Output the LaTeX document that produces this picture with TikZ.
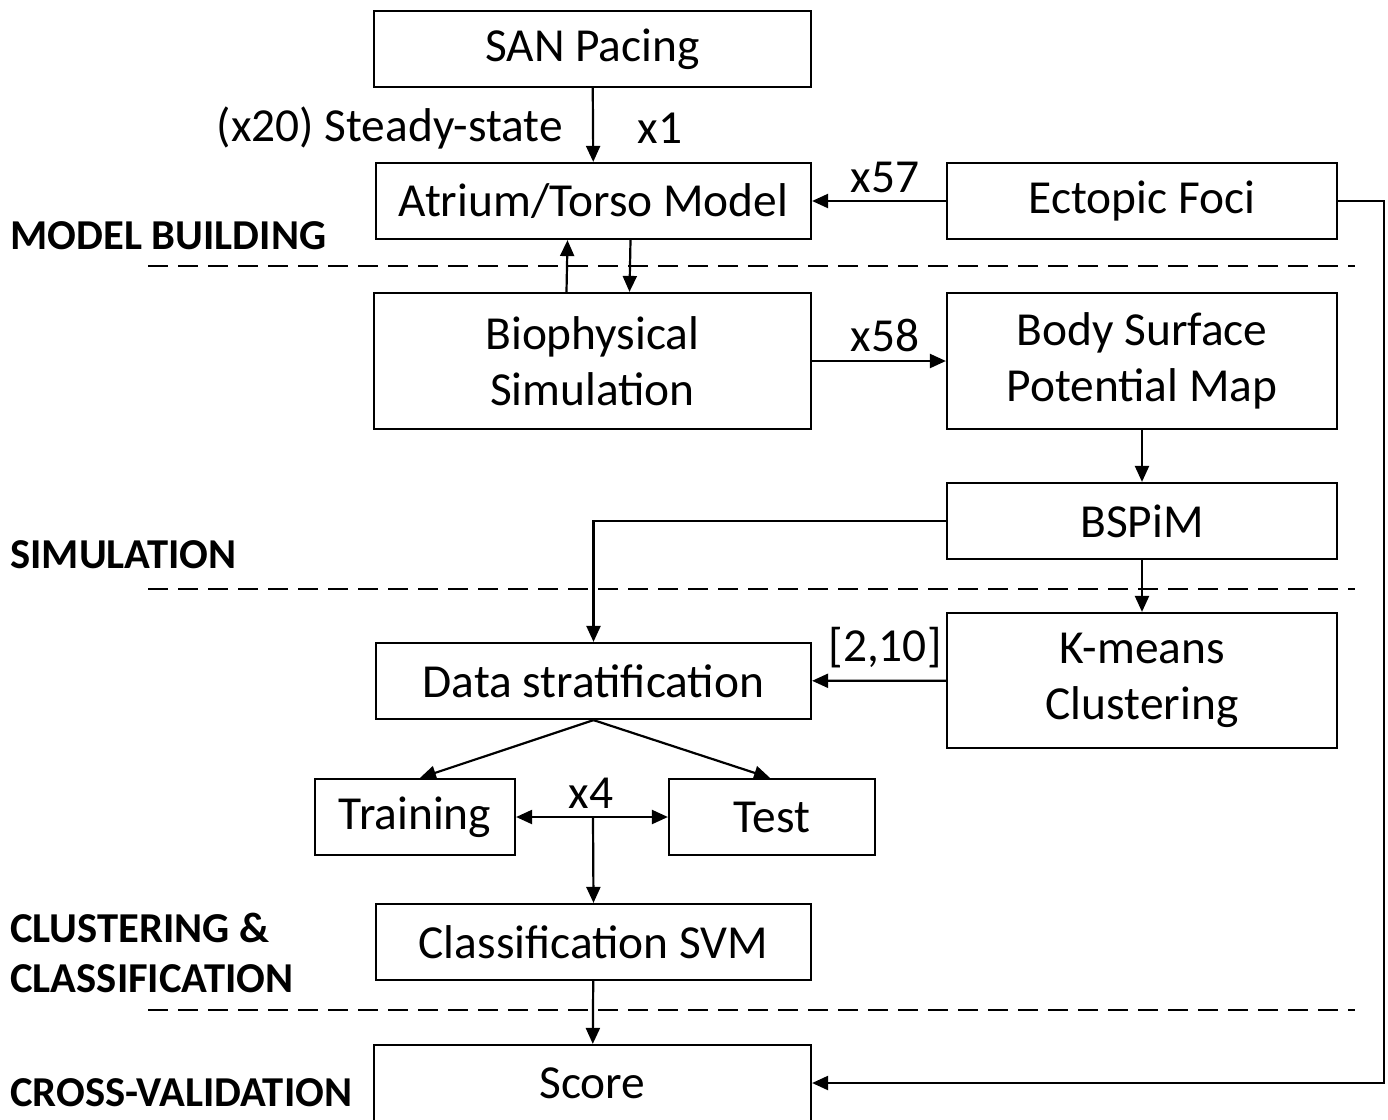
\documentclass[tikz,border=0pt]{standalone}
\usepackage{fontspec}
\setmainfont{Carlito}
\usetikzlibrary{arrows.meta}
\begin{document}
\begin{tikzpicture}[x=0.5pt,y=-0.5pt,
  box/.style={draw,line width=1.1pt,inner sep=0pt,align=center,font=\fontsize{23.7}{28}\selectfont},
  lbl/.style={inner sep=0pt,font=\fontsize{23.7}{28}\selectfont},
  sect/.style={inner sep=0pt,anchor=west,align=left,font=\bfseries\fontsize{21.3}{25}\selectfont},
  arr/.style={line width=1.1pt,-{Triangle[length=8pt,width=7pt]}},
  darr/.style={line width=1.1pt,{Triangle[length=8pt,width=7pt]}-{Triangle[length=8pt,width=7pt]}},
  sep/.style={line width=1.1pt,dash pattern=on 10pt off 5pt}]
\useasboundingbox (0,0) rectangle (1388,1120);
% boxes
\node[box,minimum width=218.5pt,minimum height=38pt] (san) at (592.5,49) {SAN Pacing};
\node[box,minimum width=217.5pt,minimum height=38pt] (atr) at (593.5,201) {Atrium/Torso Model};
\node[box,minimum width=195pt,minimum height=38pt] (ect) at (1142,201) {Ectopic Foci};
\node[box,minimum width=218.5pt,minimum height=68pt] (bio) at (592.5,361) {Biophysical\\Simulation};
\node[box,minimum width=195pt,minimum height=68pt] (bsp) at (1142,361) {Body Surface\\Potential Map};
\node[box,minimum width=195pt,minimum height=38pt] (bspim) at (1142,521) {BSPiM};
\node[box,minimum width=195pt,minimum height=67.5pt] (km) at (1142,680.5) {K-means\\Clustering};
\node[box,minimum width=217.5pt,minimum height=38pt] (data) at (593.5,681) {Data stratification};
\node[box,minimum width=100pt,minimum height=38pt] (train) at (415,817) {Training};
\node[box,minimum width=103pt,minimum height=38pt] (test) at (772,817) {Test};
\node[box,minimum width=217.5pt,minimum height=38pt] (svm) at (593.5,942) {Classification SVM};
\node[box,minimum width=218.5pt,minimum height=38pt] (score) at (592.5,1083) {Score};
% dashed separators
\draw[sep] (148,266) -- (1355,266);
\draw[sep] (148,589) -- (1355,589);
\draw[sep] (148,1010) -- (1355,1010);
% section labels
\node[sect] (s1) at (10,236) {MODEL BUILDING};
\node[sect] (s2) at (10,555) {SIMULATION};
\node[sect] (s3) at (10,953) {CLUSTERING \&\\CLASSIFICATION};
\node[sect] (s4) at (10,1093) {CROSS-VALIDATION};
% edge labels
\node[lbl,anchor=east] (l20) at (563,128) {(x20) Steady-state};
\node[lbl] (l1) at (660,128) {x1};
\node[lbl] (l57) at (885,177) {x57};
\node[lbl] (l58) at (885,335) {x58};
\node[lbl] (l210) at (885,648) {[2,10]};
\node[lbl] (l4) at (591,793) {x4};
% connectors
\draw[arr] (san) -- (atr);
\draw[arr] ([xshift=-13pt]bio.north) -- ([xshift=-13pt]atr.south);
\draw[arr] ([xshift=18.5pt]atr.south) -- ([xshift=18.5pt]bio.north);
\draw[arr] (ect) -- (atr);
\draw[arr] (ect.east) -- ++(46,0) |- (score.east);
\draw[arr] (bio) -- (bsp);
\draw[arr] (bsp) -- (bspim);
\draw[arr] (bspim) -- (km);
\draw[arr] (bspim.west) -| (data.north);
\draw[arr] (km) -- (data);
\draw[arr] (data.south) -- ([xshift=2.5pt]train.north);
\draw[arr] (data.south) -- ([xshift=-1pt]test.north);
\coordinate (j) at (593,818);
\draw[darr] (train.east) -- (test.west);
\draw[arr] (j) -- (svm.north);
\draw[arr] (svm) -- (score);
\end{tikzpicture}
\end{document}
